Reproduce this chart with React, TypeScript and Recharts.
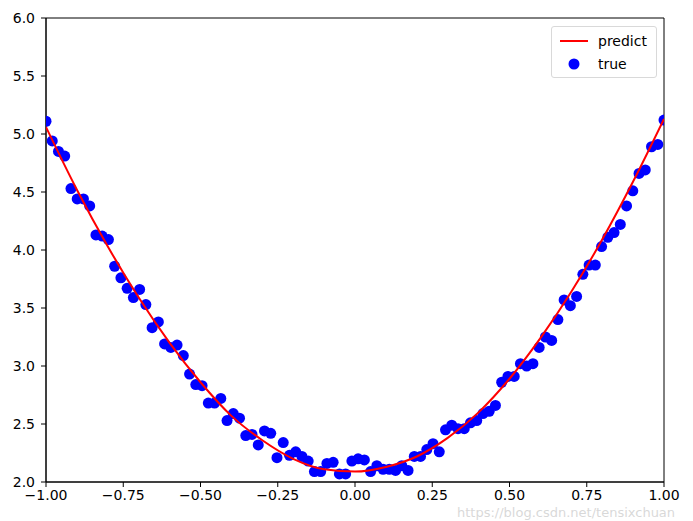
import {
  ComposedChart, Scatter, XAxis, YAxis, ReferenceArea
} from 'recharts';

// sample positions (linspace -1..1, 100 points)
const sampleX = [
  -1.0, -0.9798, -0.9596, -0.9394, -0.9192, -0.899, -0.8788, -0.8586, -0.8384, -0.8182,
  -0.798, -0.7778, -0.7576, -0.7374, -0.7172, -0.697, -0.6768, -0.6566, -0.6364, -0.6162,
  -0.596, -0.5758, -0.5556, -0.5354, -0.5152, -0.4949, -0.4747, -0.4545, -0.4343, -0.4141,
  -0.3939, -0.3737, -0.3535, -0.3333, -0.3131, -0.2929, -0.2727, -0.2525, -0.2323, -0.2121,
  -0.1919, -0.1717, -0.1515, -0.1313, -0.1111, -0.0909, -0.0707, -0.0505, -0.0303, -0.0101,
  0.0101, 0.0303, 0.0505, 0.0707, 0.0909, 0.1111, 0.1313, 0.1515, 0.1717, 0.1919,
  0.2121, 0.2323, 0.2525, 0.2727, 0.2929, 0.3131, 0.3333, 0.3535, 0.3737, 0.3939,
  0.4141, 0.4343, 0.4545, 0.4747, 0.4949, 0.5152, 0.5354, 0.5556, 0.5758, 0.596,
  0.6162, 0.6364, 0.6566, 0.6768, 0.697, 0.7172, 0.7374, 0.7576, 0.7778, 0.798,
  0.8182, 0.8384, 0.8586, 0.8788, 0.899, 0.9192, 0.9394, 0.9596, 0.9798, 1.0,
];

// observed values ("true")
const trueY = [
  5.11, 4.94, 4.85, 4.81, 4.53, 4.44, 4.44, 4.38, 4.13, 4.12,
  4.09, 3.86, 3.76, 3.67, 3.59, 3.66, 3.53, 3.33, 3.38, 3.19,
  3.16, 3.18, 3.09, 2.93, 2.84, 2.83, 2.68, 2.68, 2.72, 2.53,
  2.59, 2.55, 2.40, 2.41, 2.32, 2.44, 2.42, 2.21, 2.34, 2.23,
  2.26, 2.22, 2.18, 2.09, 2.09, 2.16, 2.17, 2.07, 2.07, 2.18,
  2.20, 2.19, 2.09, 2.14, 2.11, 2.11, 2.10, 2.14, 2.10, 2.22,
  2.22, 2.28, 2.33, 2.26, 2.45, 2.49, 2.46, 2.46, 2.51, 2.53,
  2.59, 2.61, 2.66, 2.86, 2.91, 2.91, 3.02, 3.00, 3.02, 3.16,
  3.25, 3.22, 3.40, 3.57, 3.52, 3.60, 3.79, 3.87, 3.87, 4.03,
  4.11, 4.15, 4.22, 4.38, 4.51, 4.66, 4.69, 4.89, 4.91, 5.12,
];

// fitted curve ("predict")
const predictX = [-1.0, -0.9, -0.8, -0.7, -0.6, -0.5, -0.4, -0.3, -0.2, -0.1, 0.0,
  0.1, 0.2, 0.3, 0.4, 0.5, 0.6, 0.7, 0.8, 0.9, 1.0];
const predictY = [5.06, 4.52, 4.03, 3.59, 3.20, 2.86, 2.57, 2.36, 2.20, 2.11, 2.09,
  2.13, 2.22, 2.38, 2.60, 2.89, 3.24, 3.64, 4.09, 4.59, 5.13];

const xTicks = [-1, -0.75, -0.5, -0.25, 0, 0.25, 0.5, 0.75, 1];
const yTicks = [2.0, 2.5, 3.0, 3.5, 4.0, 4.5, 5.0, 5.5, 6.0];

const trueData = sampleX.map((x, i) => ({ x, y: trueY[i] }));
const predictData = predictX.map((x, i) => ({ x, y: predictY[i] }));

const FONT = "'DejaVu Sans', sans-serif";
const tickStyle = { fontSize: 14, fill: '#000', fontFamily: FONT };
const fmt = (v: number, d: number) => v.toFixed(d).replace('-', '\u2212');

const LegendBox = () => (
  <div style={{
    position: 'absolute', left: 551, top: 26, width: 106, height: 52,
    border: '1px solid #d9d9d9', borderRadius: 3, background: 'rgba(255,255,255,0.8)',
    padding: '2px 0 0 8px', fontFamily: FONT, fontSize: 14, color: '#000',
    boxSizing: 'border-box',
  }}>
    <div style={{ display: 'flex', alignItems: 'center', height: 23 }}>
      <svg width={28} height={10} style={{ marginRight: 10 }}>
        <line x1={0} y1={5} x2={28} y2={5} stroke="#ff0000" strokeWidth={2} />
      </svg>
      predict
    </div>
    <div style={{ display: 'flex', alignItems: 'center', height: 23 }}>
      <svg width={28} height={12} style={{ marginRight: 10 }}>
        <circle cx={14} cy={6} r={5.5} fill="#0000ff" />
      </svg>
      true
    </div>
  </div>
);

export default function App() {
  return (
    <div style={{ position: 'absolute', left: 0, top: 0, width: 693, height: 521, background: '#fff' }}>
      <ComposedChart
        width={693}
        height={521}
        margin={{ top: 18, right: 29, bottom: 0, left: 0 }}
      >
        <XAxis
          type="number"
          dataKey="x"
          domain={[-1, 1]}
          ticks={xTicks}
          allowDataOverflow
          height={39}
          tickSize={5}
          tickMargin={3}
          tick={tickStyle}
          tickFormatter={(v: number) => fmt(v, 2)}
          stroke="#000"
        />
        <YAxis
          type="number"
          dataKey="y"
          domain={[2, 6]}
          ticks={yTicks}
          allowDataOverflow
          width={46}
          tickSize={5}
          tickMargin={6}
          tick={tickStyle}
          tickFormatter={(v: number) => fmt(v, 1)}
          stroke="#000"
        />
        <ReferenceArea x1={-1} x2={1} y1={2} y2={6} fill="none" stroke="#000" strokeWidth={1} ifOverflow="visible" />
        <Scatter
          name="true"
          data={trueData}
          dataKey="y"
          isAnimationActive={false}
          shape={(p: any) => <circle cx={p.cx} cy={p.cy} r={5.5} fill="#0000ff" />}
        />
        <Scatter
          name="predict"
          data={predictData}
          dataKey="y"
          line={{ stroke: '#ff0000', strokeWidth: 2 }}
          lineJointType="monotoneX"
          shape={() => <g />}
          isAnimationActive={false}
        />
      </ComposedChart>
      <LegendBox />
      <div style={{
        position: 'absolute', left: 457, top: 505, fontFamily: FONT, fontSize: 13,
        color: 'rgba(190,190,190,0.6)', whiteSpace: 'nowrap',
      }}>
        https://blog.csdn.net/tensixchuan
      </div>
    </div>
  );
}
